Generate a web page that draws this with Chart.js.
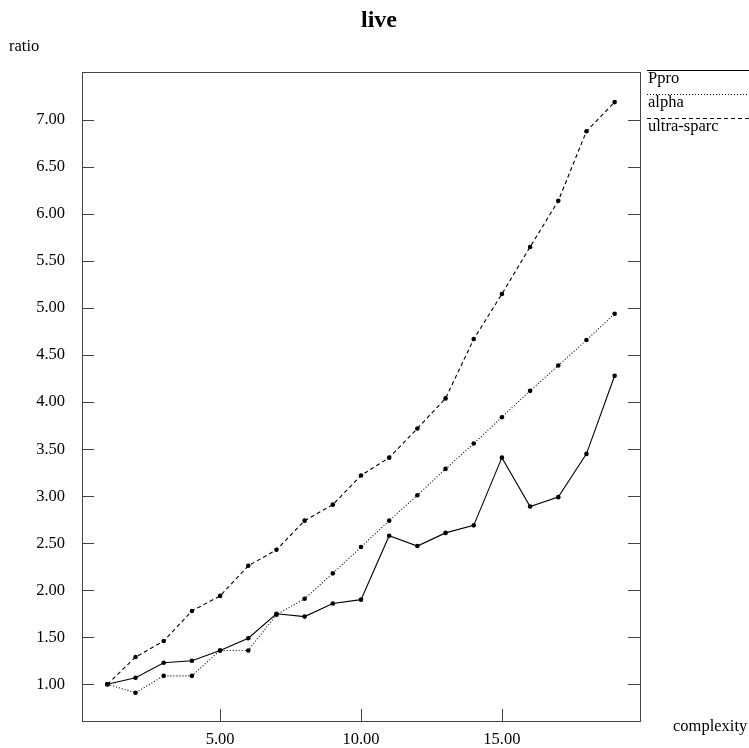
<!DOCTYPE html>
<html>
<head>
<meta charset="utf-8">
<script src="https://cdn.jsdelivr.net/npm/chart.js@4.4.1/dist/chart.umd.min.js"></script>
<style>
  html, body { margin: 0; padding: 0; background: #fff; }
  #wrap { width: 749px; height: 748px; }
</style>
</head>
<body>
<div id="wrap"><canvas id="chart" width="749" height="748"></canvas></div>
<script>
// data
const complexity = [1, 2, 3, 4, 5, 6, 7, 8, 9, 10, 11, 12, 13, 14, 15, 16, 17, 18, 19];
const ppro  = [1.00, 1.07, 1.23, 1.25, 1.36, 1.49, 1.75, 1.72, 1.86, 1.90, 2.58, 2.47, 2.61, 2.69, 3.41, 2.89, 2.99, 3.45, 4.28];
const alpha = [1.00, 0.91, 1.09, 1.09, 1.36, 1.36, 1.74, 1.91, 2.18, 2.46, 2.74, 3.01, 3.29, 3.56, 3.84, 4.12, 4.39, 4.66, 4.94];
const ultra = [1.00, 1.29, 1.46, 1.78, 1.94, 2.26, 2.43, 2.74, 2.91, 3.22, 3.41, 3.72, 4.04, 4.67, 5.15, 5.65, 6.14, 6.88, 7.19];
const xTicks = [5, 10, 15];
const yTicks = [1.0, 1.5, 2.0, 2.5, 3.0, 3.5, 4.0, 4.5, 5.0, 5.5, 6.0, 6.5, 7.0];

const FONT = "'Liberation Serif', 'Times New Roman', serif";
const AXIS = '#444';

function series(label, values, dash) {
  return {
    label: label,
    data: complexity.map((x, i) => ({ x: x, y: values[i] })),
    borderColor: '#000',
    borderWidth: 1.1,
    borderDash: dash,
    pointRadius: 2.3,
    pointBorderWidth: 0,
    pointBackgroundColor: '#000',
    tension: 0,
    fill: false
  };
}

// frame, inward ticks, title, axis names and legend
const decor = {
  id: 'decor',
  afterDraw(chart) {
    const c = chart.ctx;
    const a = chart.chartArea;
    const xs = chart.scales.x, ys = chart.scales.y;
    c.save();
    c.strokeStyle = AXIS;
    c.lineWidth = 1;
    c.setLineDash([]);
    c.strokeRect(Math.round(a.left) + 0.5, Math.round(a.top) + 0.5,
                 Math.round(a.right - a.left), Math.round(a.bottom - a.top));
    c.beginPath();
    yTicks.forEach(v => {
      const y = Math.round(ys.getPixelForValue(v)) + 0.5;
      c.moveTo(a.left, y); c.lineTo(a.left + 12, y);
      c.moveTo(a.right, y); c.lineTo(a.right - 12, y);
    });
    xTicks.forEach(v => {
      const x = Math.round(xs.getPixelForValue(v)) + 0.5;
      c.moveTo(x, a.bottom); c.lineTo(x, a.bottom - 12);
    });
    c.stroke();

    c.fillStyle = '#000';
    c.textBaseline = 'alphabetic';
    c.textAlign = 'center';
    c.font = 'bold 24px ' + FONT;
    c.fillText('live', 379, 27);
    c.textAlign = 'left';
    c.font = '16.5px ' + FONT;
    c.fillText('ratio', 9, 51);
    c.fillText('complexity', 673, 731);

    chart.data.datasets.forEach((ds, i) => {
      const y = 70 + i * 24;
      c.strokeStyle = '#000';
      c.lineWidth = 1;
      c.setLineDash(ds.borderDash || []);
      c.beginPath();
      c.moveTo(647, y + 0.5); c.lineTo(749, y + 0.5);
      c.stroke();
      c.fillText(ds.label, 648, y + 13);
    });
    c.restore();
  }
};

new Chart(document.getElementById('chart'), {
  type: 'line',
  data: {
    datasets: [
      series('Ppro', ppro, []),
      series('alpha', alpha, [1, 2]),
      series('ultra-sparc', ultra, [4, 3])
    ]
  },
  options: {
    responsive: false,
    animation: false,
    layout: { padding: { left: 0, top: 72, right: 109, bottom: 0 } },
    plugins: {
      legend: { display: false },
      title: { display: false },
      tooltip: { enabled: false }
    },
    scales: {
      x: {
        type: 'linear',
        min: 0.1,
        max: 19.9,
        grid: { display: false },
        border: { display: false },
        afterBuildTicks: s => { s.ticks = xTicks.map(v => ({ value: v })); },
        afterFit: s => { s.height = 27; },
        ticks: {
          autoSkip: false,
          maxRotation: 0,
          padding: 1,
          color: '#000',
          font: { family: FONT, size: 16.5 },
          callback: v => v.toFixed(2)
        }
      },
      y: {
        min: 0.61,
        max: 7.51,
        grid: { display: false },
        border: { display: false },
        afterBuildTicks: s => { s.ticks = yTicks.map(v => ({ value: v })); },
        afterFit: s => { s.width = 82; },
        ticks: {
          autoSkip: false,
          padding: 9,
          color: '#000',
          font: { family: FONT, size: 16.5 },
          callback: v => v.toFixed(2)
        }
      }
    }
  },
  plugins: [decor]
});
</script>
</body>
</html>
